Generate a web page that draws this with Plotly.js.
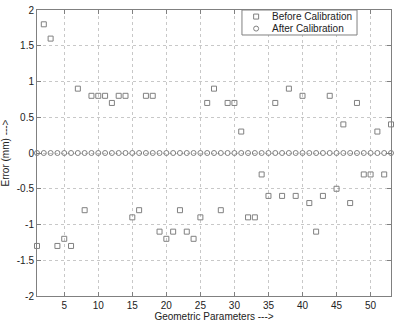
<!DOCTYPE html>
<html>
<head>
<meta charset="utf-8">
<script src="https://cdn.plot.ly/plotly-3.0.1.min.js"></script>
<style>html,body{margin:0;padding:0;background:#fff;}#chart{width:395px;height:325px;}</style>
</head>
<body>
<div id="chart"></div>
<script>
var params = [1,2,3,4,5,6,7,8,9,10,11,12,13,14,15,16,17,18,19,20,21,22,23,24,25,26,27,28,29,30,31,32,33,34,35,36,37,38,39,40,41,42,43,44,45,46,47,48,49,50,51,52,53];
var beforeCal = [-1.3,1.8,1.6,-1.3,-1.2,-1.3,0.9,-0.8,0.8,0.8,0.8,0.7,0.8,0.8,-0.9,-0.8,0.8,0.8,-1.1,-1.2,-1.1,-0.8,-1.1,-1.2,-0.9,0.7,0.9,-0.8,0.7,0.7,0.3,-0.9,-0.9,-0.3,-0.6,0.7,-0.6,0.9,-0.6,0.8,-0.7,-1.1,-0.6,0.8,-0.5,0.4,-0.7,0.7,-0.3,-0.3,0.3,-0.3,0.4];
var afterCal = [0,0,0,0,0,0,0,0,0,0,0,0,0,0,0,0,0,0,0,0,0,0,0,0,0,0,0,0,0,0,0,0,0,0,0,0,0,0,0,0,0,0,0,0,0,0,0,0,0,0,0,0,0];
var seriesNames = ['Before Calibration', 'After Calibration'];
var xTicks = [5,10,15,20,25,30,35,40,45,50];
var yTicks = [-2,-1.5,-1,-0.5,0,0.5,1,1.5,2];
var yTickText = ['-2','-1.5','-1','-0.5','0','0.5','1','1.5','2'];

var grey = '#808080';
var traces = [
  {x: params, y: beforeCal, name: seriesNames[0], mode: 'markers', type: 'scatter', cliponaxis: false,
   marker: {symbol: 'square-open', size: 5, color: grey, line: {width: 1, color: grey}}},
  {x: params, y: afterCal, name: seriesNames[1], mode: 'markers', type: 'scatter', cliponaxis: false,
   marker: {symbol: 'circle-open', size: 5, color: grey, line: {width: 1, color: grey}}}
];
var axCommon = {
  showline: true, linecolor: grey, linewidth: 1, mirror: 'ticks',
  ticks: 'inside', ticklen: 4, tickcolor: grey, tickwidth: 1,
  showgrid: true, gridcolor: '#c8c8c8', griddash: 'dot', gridwidth: 1,
  zeroline: false, tickfont: {size: 10, color: '#222'}
};

// compact legend (box, glyphs, labels) in paper coordinates
var lgX0 = 0.579, lgX1 = 0.904, lgY0 = 0.9126, lgY1 = 1.0;
var glyphX = 0.619, textX = 0.658, rowY = [0.977, 0.935];
var shapes = [
  {type: 'rect', xref: 'paper', yref: 'paper', x0: lgX0, x1: lgX1, y0: lgY0, y1: lgY1,
   line: {color: grey, width: 1}, fillcolor: '#fff', layer: 'above'},
  {type: 'rect', xref: 'paper', yref: 'paper', xsizemode: 'pixel', ysizemode: 'pixel',
   xanchor: glyphX, yanchor: rowY[0], x0: -2.5, x1: 2.5, y0: -2.5, y1: 2.5,
   line: {color: grey, width: 1}, layer: 'above'},
  {type: 'circle', xref: 'paper', yref: 'paper', xsizemode: 'pixel', ysizemode: 'pixel',
   xanchor: glyphX, yanchor: rowY[1], x0: -2.5, x1: 2.5, y0: -2.5, y1: 2.5,
   line: {color: grey, width: 1}, layer: 'above'}
];
var annotations = seriesNames.map(function (n, i) {
  return {xref: 'paper', yref: 'paper', x: textX, y: rowY[i], xanchor: 'left', yanchor: 'middle',
          text: n, showarrow: false, font: {size: 10, color: '#222'}};
});

var layout = {
  width: 395, height: 325,
  margin: {l: 37, r: 4, t: 10, b: 29},
  paper_bgcolor: '#fff', plot_bgcolor: '#fff',
  font: {family: 'Liberation Sans, Arial, sans-serif', size: 10, color: '#222'},
  showlegend: false,
  shapes: shapes,
  annotations: annotations,
  xaxis: Object.assign({}, axCommon, {range: [1, 53], tickmode: 'array', tickvals: xTicks,
           title: {text: 'Geometric Parameters --->', font: {size: 10, color: '#222'}, standoff: 2}}),
  yaxis: Object.assign({}, axCommon, {range: [-2, 2], tickmode: 'array', tickvals: yTicks, ticktext: yTickText,
           title: {text: 'Error (mm) --->', font: {size: 10, color: '#222'}, standoff: 6}})
};
Plotly.newPlot('chart', traces, layout, {displayModeBar: false, staticPlot: true});
</script>
</body>
</html>
